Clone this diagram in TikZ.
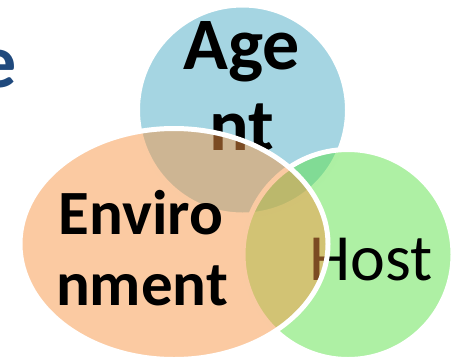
\documentclass[tikz,border=0pt]{standalone}
\usepackage{fontspec}
\setmainfont{Carlito}
\usetikzlibrary{shapes.geometric}
\definecolor{agentc}{HTML}{4BACC6}
\definecolor{hostc}{HTML}{5DE149}
\definecolor{envc}{HTML}{F79646}
\definecolor{titlec}{HTML}{1F497D}
\tikzset{
  blob/.style={draw=white,line width=5pt,inner sep=0pt,fill opacity=0.5,draw opacity=1},
  lab/.style={inner sep=0pt,anchor=base,text=black,font=\bfseries\fontsize{74}{74}\selectfont},
  labenv/.style={inner sep=0pt,anchor=base,text=black,font=\bfseries\fontsize{63}{63}\selectfont},
  labreg/.style={inner sep=0pt,anchor=base,text=black,font=\fontsize{66}{66}\selectfont}
}
\begin{document}
\begin{tikzpicture}[x=1pt,y=-1pt]
\useasboundingbox (0,0) rectangle (454,357);
\clip (0,0) rectangle (454,357);
\node[inner sep=0pt,anchor=base east,text=titlec,font=\bfseries\fontsize{76}{76}\selectfont] (title) at (17,87) {e};
\node[blob,circle,fill=agentc,minimum size=210pt] (agent) at (242.5,110) {};
\node[lab] (age) at (242,69) {Age};
\node[lab] (nt) at (242,150) {nt};
\node[blob,circle,fill=hostc,minimum size=210pt] (host) at (348,254.5) {};
\node[labreg] (hosttext) at (371,280) {Host};
\node[blob,ellipse,fill=envc,minimum width=308pt,minimum height=231pt] (env) at (174,244) {};
\node[labenv] (enviro) at (141,234) {Enviro};
\node[labenv] (nment) at (142,305) {nment};
\end{tikzpicture}
\end{document}
